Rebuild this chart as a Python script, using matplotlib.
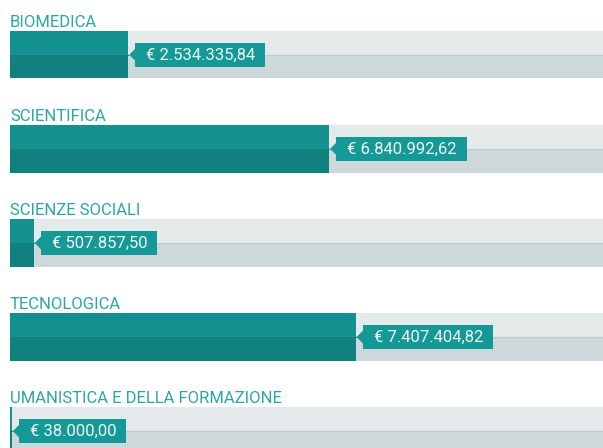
import matplotlib
matplotlib.use("Agg")
import matplotlib.pyplot as plt
from matplotlib.patches import Rectangle, Polygon

categories = ["BIOMEDICA", "SCIENTIFICA", "SCIENZE SOCIALI", "TECNOLOGICA",
              "UMANISTICA E DELLA FORMAZIONE"]
values = [2534335.84, 6840992.62, 507857.50, 7407404.82, 38000.00]
value_labels = ["€ 2.534.335,84", "€ 6.840.992,62", "€ 507.857,50",
                "€ 7.407.404,82", "€ 38.000,00"]

W, H = 603, 448
fig = plt.figure(figsize=(W / 100, H / 100), dpi=100)
left_px = 10
ax = fig.add_axes([left_px / W, 0, (W - left_px) / W, 1])
px_per_unit = 7407404.82 / 345.5  # data units per pixel
xmax = (W - left_px) * px_per_unit
ax.set_xlim(0, xmax)
ax.set_ylim(H, 0)
ax.axis("off")

bg_top, bg_bot = "#e4eaea", "#cdd8da"
bar_top, bar_bot = "#139190", "#10817f"
box_col = "#159996"
title_col = "#2aa7a4"
font = "Roboto"
fs = 12.0

row0, spacing, bar_h = 31, 94.1, 47.5
fig.canvas.draw()
renderer = fig.canvas.get_renderer()

for i, (cat, val, lab) in enumerate(zip(categories, values, value_labels)):
    top = row0 + spacing * i
    half = bar_h / 2
    ax.barh(top + half / 2, xmax, height=half, color=bg_top, left=0, linewidth=0)
    ax.barh(top + half * 1.5, xmax, height=half, color=bg_bot, left=0, linewidth=0)
    ax.plot([0, xmax], [top + half, top + half], color="#bccbcc", lw=0.8)
    ax.barh(top + half / 2, val, height=half, color=bar_top, linewidth=0)
    ax.barh(top + half * 1.5, val, height=half, color=bar_bot, linewidth=0)
    ax.plot([0, val], [top + half, top + half], color="#0f7f7d", lw=0.8)
    # title
    ax.text(0, top - 4, cat, color=title_col, fontsize=fs, family=font,
            fontweight="normal", ha="left", va="baseline")
    # callout
    mid = top + half
    tip_x = val + 1 * px_per_unit
    box_l = val + 7 * px_per_unit
    txt = ax.text(box_l + 11 * px_per_unit, mid + 0.5, lab, color="#eef7f7",
                  fontsize=fs, family=font, fontweight="normal",
                  ha="left", va="center", zorder=5)
    bb = txt.get_window_extent(renderer=renderer)
    tw = bb.width * px_per_unit
    box_w = tw + 21 * px_per_unit
    ax.add_patch(Rectangle((box_l, mid - 12), box_w, 24, color=box_col,
                           linewidth=0, zorder=4))
    ax.add_patch(Polygon([(tip_x, mid), (box_l + 0.5 * px_per_unit, mid - 6.5),
                          (box_l + 0.5 * px_per_unit, mid + 6.5)],
                         closed=True, color=box_col, linewidth=0, zorder=4))

fig.savefig("out.png", dpi=100)
